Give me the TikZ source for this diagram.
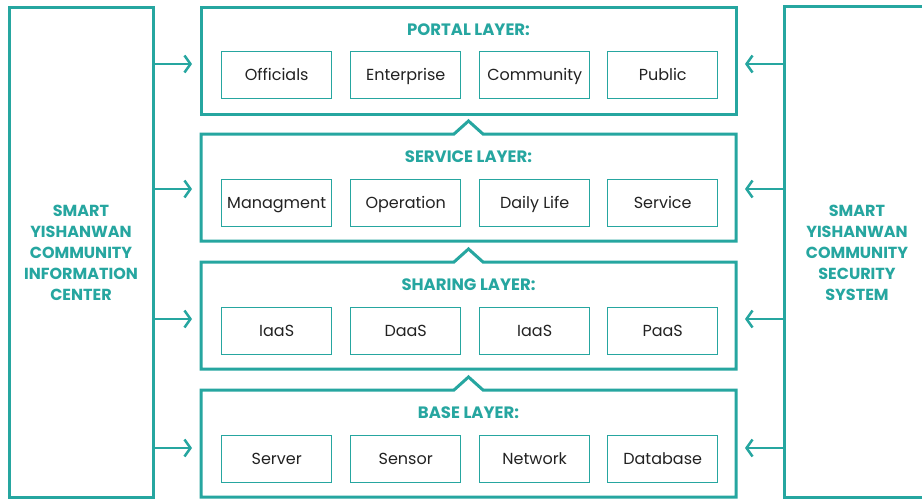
\documentclass[tikz,border=0pt]{standalone}
\usepackage{fontspec}
\setmainfont{Poppins}
\usetikzlibrary{arrows.meta,calc}
\definecolor{teal}{RGB}{38,166,160}
\definecolor{ink}{RGB}{34,34,34}
\tikzset{
  sidebox/.style={draw=teal,line width=3pt,minimum width=144pt,minimum height=490pt,anchor=north west,inner sep=0pt,outer sep=0pt},
  sidetext/.style={text=teal,font=\fontsize{16}{21}\selectfont\bfseries,align=center},
  layerbox/.style={minimum width=535pt,minimum height=107pt,anchor=north west,inner sep=0pt,outer sep=0pt},
  layerline/.style={draw=teal,line width=3pt,line join=miter},
  title/.style={text=teal,font=\fontsize{16.5}{18}\selectfont\bfseries,text height=1.05em,text depth=0.03em},
  item/.style={draw=teal,line width=1.4pt,minimum width=110pt,minimum height=47pt,anchor=north west,inner sep=0pt,text=ink,font=\fontsize{16}{18}\selectfont,text height=1.0em,text depth=0.0em},
  arr/.style={draw=teal,line width=2.5pt,-{Straight Barb[length=6pt,width=17pt,line width=2.5pt]}},
}
\begin{document}
\begin{tikzpicture}[x=1pt,y=-1pt]
\useasboundingbox (0,0) rectangle (922,499);
\fill[white] (0,0) rectangle (922,499);

% side panels
\node[sidebox] (lbox) at (9,7) {};
\node[sidetext] (ltext) at (81,253) {SMART\\YISHANWAN\\COMMUNITY\\INFORMATION\\CENTER};
\draw[teal,line width=3pt] (935,6) -- (784,6) -- (784,497) -- (935,497);
\coordinate (rboxw) at (784,250);
\node[sidetext] (rtext) at (857,253) {SMART\\YISHANWAN\\COMMUNITY\\SECURITY\\SYSTEM};

% layers
\node[layerbox] (portal) at (201,7) {};
\node[layerbox] (service) at (201,134) {};
\node[layerbox] (sharing) at (201,262) {};
\node[layerbox] (base) at (201,390) {};

\draw[layerline] (portal.north west) rectangle (portal.south east);
\foreach \L in {service,sharing,base}{
  \draw[layerline] (\L.north west) -- ($(\L.north west)+(253,0)$) -- ($(\L.north west)+(267.5,-13)$)
    -- ($(\L.north west)+(282,0)$) -- (\L.north east) -- (\L.south east) -- (\L.south west) -- cycle;
}

\node[title] (tportal) at (468.5,30) {PORTAL LAYER:};
\node[title] (tservice) at (468.5,157) {SERVICE LAYER:};
\node[title] (tsharing) at (468.5,285) {SHARING LAYER:};
\node[title] (tbase) at (468.5,413) {BASE LAYER:};

% portal items
\node[item] (p1) at (221,51) {Officials};
\node[item] (p2) at (350,51) {Enterprise};
\node[item] (p3) at (479,51) {Community};
\node[item] (p4) at (607,51) {Public};
% service items
\node[item] (s1) at (221,179) {Managment};
\node[item] (s2) at (350,179) {Operation};
\node[item] (s3) at (479,179) {Daily Life};
\node[item] (s4) at (607,179) {Service};
% sharing items
\node[item] (h1) at (221,307) {IaaS};
\node[item] (h2) at (350,307) {DaaS};
\node[item] (h3) at (479,307) {IaaS};
\node[item] (h4) at (607,307) {PaaS};
% base items
\node[item] (b1) at (221,435) {Server};
\node[item] (b2) at (350,435) {Sensor};
\node[item] (b3) at (479,435) {Network};
\node[item] (b4) at (607,435) {Database};

% connectors
\foreach \L/\y in {portal/64,service/189,sharing/319,base/448}{
  \draw[arr,shorten >=9pt] (lbox.east |- 0,\y) -- (\L.west |- 0,\y);
  \draw[arr,shorten >=9pt] (rboxw |- 0,\y) -- (\L.east |- 0,\y);
}
\end{tikzpicture}
\end{document}
